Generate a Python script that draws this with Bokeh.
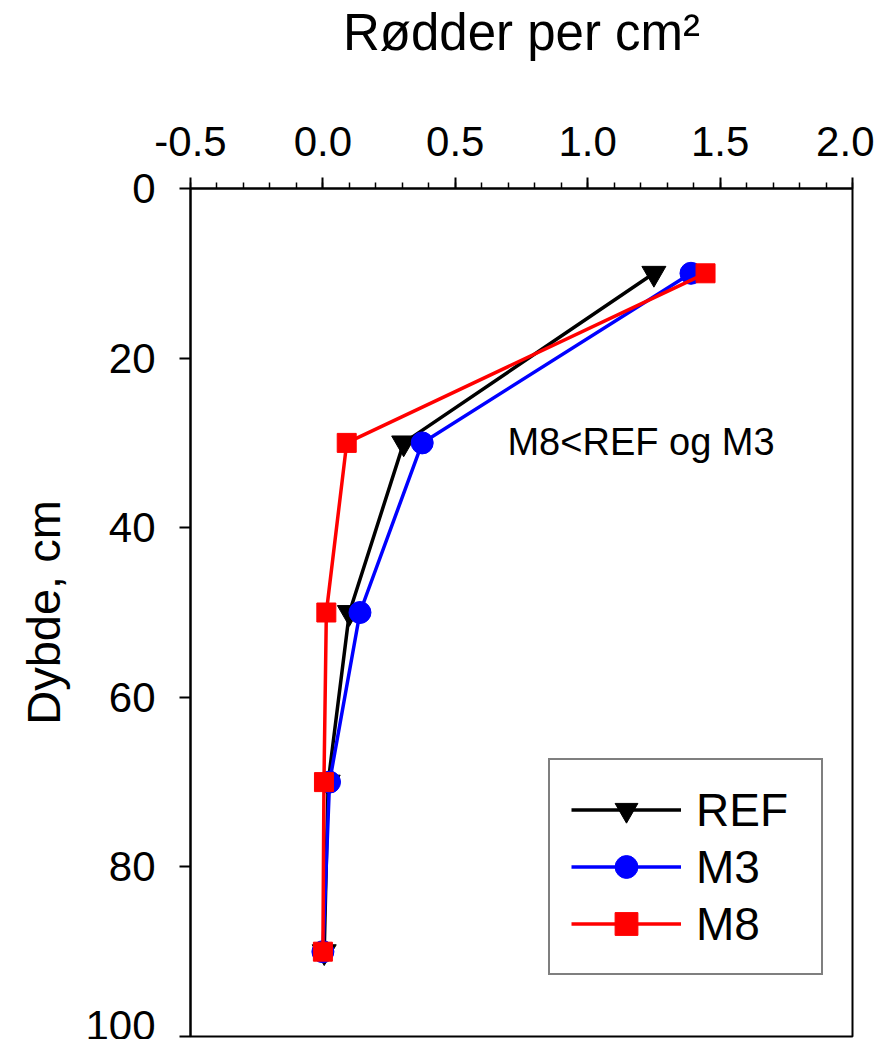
from bokeh.plotting import figure
from bokeh.models import Range1d, Legend, LegendItem, Label, FixedTicker
from bokeh.embed import file_html
from bokeh.resources import INLINE

depth = [10, 30, 50, 70, 90]
ref_vals = [1.25, 0.305, 0.10, 0.02, 0.005]
m3_vals = [1.39, 0.375, 0.14, 0.025, 0.0]
m8_vals = [1.445, 0.09, 0.013, 0.004, 0.0]
x_ticks = [-0.5, 0.0, 0.5, 1.0, 1.5, 2.0]
y_ticks = [0, 20, 40, 60, 80, 100]

FONT = "Liberation Sans"

p = figure(width=874, height=1039, output_backend="svg", toolbar_location=None,
           x_axis_location="above", x_range=Range1d(-0.5, 2.0), y_range=Range1d(100, 0))
p.min_border_left = 190
p.min_border_right = 22
p.min_border_top = 186
p.min_border_bottom = 3
p.grid.visible = False
p.outline_line_color = "black"
p.outline_line_width = 2
p.background_fill_color = "white"
p.border_fill_color = "white"

xa = p.xaxis[0]
xa.ticker = FixedTicker(ticks=x_ticks, minor_ticks=[round(-0.5 + 0.1 * i, 2) for i in range(26)])
xa.major_label_overrides = {t: f"{t:.1f}" for t in x_ticks}
xa.axis_label = "Rødder per cm²"
xa.axis_label_text_font = FONT
xa.axis_label_text_font_style = "normal"
xa.axis_label_text_font_size = "51px"
xa.axis_label_text_color = "black"
xa.axis_label_standoff = 63
xa.major_label_text_font = FONT
xa.major_label_text_font_size = "42px"
xa.major_label_text_color = "black"
xa.major_label_standoff = 22
xa.major_tick_out = 11
xa.major_tick_in = 0
xa.minor_tick_out = 6
xa.minor_tick_in = 0
xa.axis_line_width = 2
xa.axis_line_color = "black"
xa.major_tick_line_width = 2
xa.minor_tick_line_width = 1.5

ya = p.yaxis[0]
ya.ticker = FixedTicker(ticks=y_ticks, minor_ticks=[])
ya.axis_label = "Dybde, cm"
ya.axis_label_text_font = FONT
ya.axis_label_text_font_style = "normal"
ya.axis_label_text_font_size = "47px"
ya.axis_label_text_color = "black"
ya.axis_label_standoff = 12
ya.major_label_text_font = FONT
ya.major_label_text_font_size = "42px"
ya.major_label_text_color = "black"
ya.major_label_standoff = 24
ya.major_tick_out = 11
ya.major_tick_in = 0
ya.axis_line_width = 2
ya.axis_line_color = "black"
ya.major_tick_line_width = 2

items = []
for vals, color, marker, size, name in [
    (ref_vals, "black", "inverted_triangle", 24, "REF"),
    (m3_vals, "blue", "circle", 22, "M3"),
    (m8_vals, "red", "square", 19, "M8"),
]:
    r1 = p.line(vals, depth, line_color=color, line_width=3.5)
    r2 = p.scatter(vals, depth, marker=marker, size=size, fill_color=color, line_color=color)
    items.append(LegendItem(label=name, renderers=[r1, r2]))

legend = Legend(items=items, location=(358, 61), padding=21, spacing=0, glyph_height=57,
                glyph_width=110, label_standoff=15, label_width=104,
                label_text_font=FONT, label_text_font_size="46px", label_text_color="black",
                border_line_color="black", border_line_width=2, margin=0,
                background_fill_alpha=1.0)
p.add_layout(legend, "center")

p.add_layout(Label(x=0.697, y=29.9, text="M8<REF og M3", text_font=FONT,
                   text_font_size="38px", text_color="black",
                   text_baseline="middle", text_align="left"))

open("out.html", "w").write(file_html(p, INLINE))
